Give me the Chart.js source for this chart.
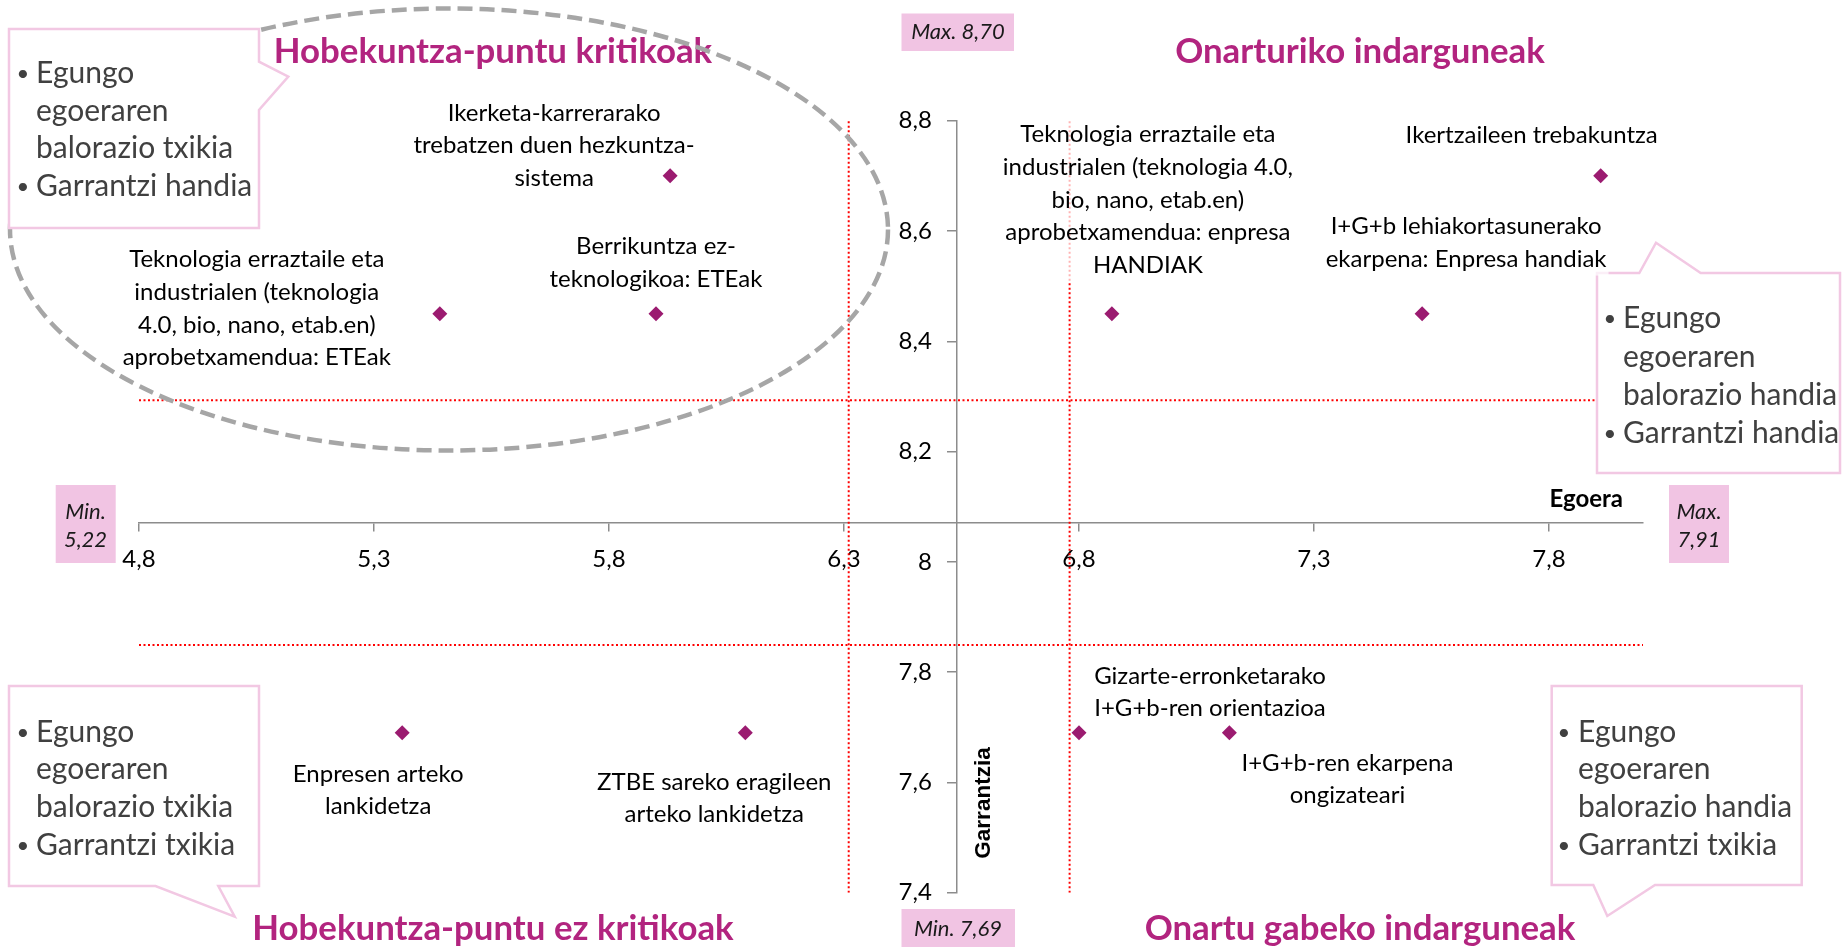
<!DOCTYPE html>
<html>
<head>
<meta charset="utf-8">
<script src="https://cdn.jsdelivr.net/npm/chart.js@4/dist/chart.umd.min.js"></script>
<style>
html,body{margin:0;padding:0;background:#ffffff;}
#wrap{width:1845px;height:947px;position:relative;}
canvas{display:block;}
</style>
</head>
<body>
<div id="wrap"><canvas id="c" width="1845" height="947"></canvas></div>
<script>
// ---------- DATA ----------
const names = [
  ["Ikerketa-karrerarako", "trebatzen duen hezkuntza-", "sistema"],
  ["Teknologia erraztaile eta", "industrialen (teknologia", "4.0, bio, nano, etab.en)", "aprobetxamendua: ETEak"],
  ["Berrikuntza ez-", "teknologikoa: ETEak"],
  ["Teknologia erraztaile eta", "industrialen (teknologia 4.0,", "bio, nano, etab.en)", "aprobetxamendua: enpresa", "HANDIAK"],
  ["Ikertzaileen trebakuntza"],
  ["I+G+b lehiakortasunerako", "ekarpena: Enpresa handiak"],
  ["Gizarte-erronketarako", "I+G+b-ren orientazioa"],
  ["I+G+b-ren ekarpena", "ongizateari"],
  ["Enpresen arteko", "lankidetza"],
  ["ZTBE sareko eragileen", "arteko lankidetza"]
];
const egoera     = [5.93, 5.44, 5.90, 6.87, 7.91, 7.53, 6.80, 7.12, 5.36, 6.09];
const garrantzia = [8.70, 8.45, 8.45, 8.45, 8.70, 8.45, 7.69, 7.69, 7.69, 7.69];

const xTicks = [4.8, 5.3, 5.8, 6.3, 6.8, 7.3, 7.8];
const yTicks = [7.4, 7.6, 7.8, 8.0, 8.2, 8.4, 8.6, 8.8];
const xRange = [4.8, 8.0];
const yRange = [7.4, 8.8];
const xAxisCross = 8.071;   // Garrantzia value where the Egoera axis sits
const yAxisCross = 6.54;    // Egoera value where the Garrantzia axis sits

const refVertical = [6.31, 6.78];     // dotted red separators (Egoera)
const refHorizontal = [8.293, 7.849]; // dotted red separators (Garrantzia)

const quadrantTitles = ["Hobekuntza-puntu kritikoak", "Onarturiko indarguneak",
                        "Hobekuntza-puntu ez kritikoak", "Onartu gabeko indarguneak"];
const calloutTexts = [
  ["• Egungo", "egoeraren", "balorazio txikia", "• Garrantzi handia"],
  ["• Egungo", "egoeraren", "balorazio handia", "• Garrantzi handia"],
  ["• Egungo", "egoeraren", "balorazio txikia", "• Garrantzi txikia"],
  ["• Egungo", "egoeraren", "balorazio handia", "• Garrantzi txikia"]
];
const minMaxTexts = [["Max. 8,70"], ["Min. 7,69"], ["Min.", "5,22"], ["Max.", "7,91"]];
const axisTitles = ["Egoera", "Garrantzia"];

// ---------- LAYOUT / STYLE ----------
const LABEL_FONT = '24px Lato, "Open Sans", sans-serif';
const LABEL_LH = 32.6;
// label offsets relative to the point pixel: [dx of line centre, dy of first line centre]
const labelOffsets = [
  [-116, -63], [-183, -54], [0, -67], [36, -179], [-69, -41],
  [44, -87], [131, -57], [118, 30], [-24, 41], [-31, 49]
];
const MAGENTA = '#B2247F';
const POINT_COLOR = '#9B1B70';
const PINK_FILL = '#F1C4E3';
const PINK_LINE = '#F2C8E3';
const AXIS_GRAY = '#8C8C8C';
const TICK_FONT = '24px Lato, "Open Sans", sans-serif';

function fmt(v) { return String(Math.round(v * 10) / 10).replace('.', ','); }

const points = egoera.map((x, i) => ({x: x, y: garrantzia[i]}));
const refSets = [];
refVertical.forEach(v => refSets.push({
  type: 'scatter', showLine: true, data: [{x: v, y: yRange[0]}, {x: v, y: yRange[1]}],
  borderColor: '#FF0000', borderWidth: 2, borderDash: [2, 2.5], pointRadius: 0, fill: false, order: 2
}));
refHorizontal.forEach(v => refSets.push({
  type: 'scatter', showLine: true, data: [{x: xRange[0], y: v}, {x: xRange[1], y: v}],
  borderColor: '#FF0000', borderWidth: 2, borderDash: [2, 2.5], pointRadius: 0, fill: false, order: 2
}));

function calloutPath(ctx, pts) {
  ctx.beginPath();
  ctx.moveTo(pts[0][0], pts[0][1]);
  for (let i = 1; i < pts.length; i++) ctx.lineTo(pts[i][0], pts[i][1]);
  ctx.closePath();
}

const callouts = [
  {path: [[9,29],[259,29],[259,61.7],[288.3,76.7],[259,110],[259,228],[9,228]], bx: 23, tx: 36, base: [83.3,120.5,158.3,196]},
  {path: [[1597,273],[1639.3,273],[1656,242.7],[1700.7,273],[1840,273],[1840,473],[1597,473]], bx: 1610, tx: 1623, base: [328.3,366.5,404.8,442.7]},
  {path: [[9,686],[259,686],[259,886],[218.3,886],[234.7,916.7],[155.5,886],[9,886]], bx: 23, tx: 36, base: [741.7,779.3,817.3,855]},
  {path: [[1551.7,686],[1801.7,686],[1801.7,885],[1655,885],[1607.3,916],[1593.3,885],[1551.7,885]], bx: 1564, tx: 1578, base: [741.7,779.3,817.3,855]}
];
const titlePos = [[493, 62.5], [1360, 62.5], [493, 940], [1360, 940]];
const minMaxBoxes = [
  {r: [901.5, 13.5, 112.5, 37.5], cx: 958, ys: [32]},
  {r: [901.5, 909, 113.5, 40], cx: 958, ys: [929]},
  {r: [55.7, 485, 60, 78], cx: 85.5, ys: [511.7, 540]},
  {r: [1669, 485, 60, 78], cx: 1699, ys: [511.7, 540]}
];

function drawDecor(chart) {
  const ctx = chart.ctx;
  const xs = chart.scales.x, ys = chart.scales.y;
  ctx.save();

  // y tick labels (right aligned, left of the tick marks)
  const yAxisPx = xs.getPixelForValue(yAxisCross);
  ctx.fillStyle = '#000000';
  ctx.font = TICK_FONT;
  ctx.textAlign = 'right';
  ctx.textBaseline = 'middle';
  yTicks.forEach(v => ctx.fillText(fmt(v), yAxisPx - 25, ys.getPixelForValue(v)));

  // quadrant titles
  ctx.fillStyle = MAGENTA;
  ctx.font = 'bold 34.8px Lato, "Open Sans", sans-serif';
  ctx.textAlign = 'center';
  ctx.textBaseline = 'alphabetic';
  quadrantTitles.forEach((t, i) => ctx.fillText(t, titlePos[i][0], titlePos[i][1]));

  // dashed ellipse
  ctx.strokeStyle = '#A6A6A6';
  ctx.lineWidth = 4.5;
  ctx.setLineDash([15, 7]);
  ctx.beginPath();
  ctx.ellipse(449, 229.5, 439, 221, 0, 0, Math.PI * 2);
  ctx.stroke();
  ctx.setLineDash([]);

  // callouts
  callouts.forEach((c, i) => {
    calloutPath(ctx, c.path);
    ctx.fillStyle = '#FFFFFF';
    ctx.fill();
    ctx.strokeStyle = PINK_LINE;
    ctx.lineWidth = 2.5;
    ctx.stroke();
    ctx.fillStyle = '#404040';
    ctx.textBaseline = 'alphabetic';
    calloutTexts[i].forEach((t, k) => {
      if (t.startsWith('• ')) {
        ctx.font = '22px Lato, sans-serif';
        ctx.textAlign = 'center';
        ctx.fillText('•', c.bx, c.base[k] - 2);
        ctx.font = '30px Lato, "Open Sans", sans-serif';
        ctx.textAlign = 'left';
        ctx.fillText(t.slice(2), c.tx, c.base[k]);
      } else {
        ctx.font = '30px Lato, "Open Sans", sans-serif';
        ctx.textAlign = 'left';
        ctx.fillText(t, c.tx, c.base[k]);
      }
    });
  });

  // min / max boxes
  minMaxBoxes.forEach((b, i) => {
    ctx.fillStyle = PINK_FILL;
    ctx.fillRect(b.r[0], b.r[1], b.r[2], b.r[3]);
    ctx.fillStyle = '#1A1A1A';
    ctx.font = 'italic 22px Lato, "Open Sans", sans-serif';
    ctx.textAlign = 'center';
    ctx.textBaseline = 'middle';
    minMaxTexts[i].forEach((t, k) => ctx.fillText(t, b.cx, b.ys[k]));
  });

  // axis titles
  ctx.fillStyle = '#000000';
  ctx.font = 'bold 24px Lato, "Open Sans", sans-serif';
  ctx.textAlign = 'right';
  ctx.textBaseline = 'alphabetic';
  ctx.fillText(axisTitles[0], 1623, 507);
  ctx.save();
  ctx.translate(983.5, 803);
  ctx.rotate(-Math.PI / 2);
  ctx.font = 'bold 22.5px "Liberation Sans", Arial, sans-serif';
  ctx.textAlign = 'center';
  ctx.textBaseline = 'middle';
  ctx.fillText(axisTitles[1], 0, 0);
  ctx.restore();

  // data labels
  ctx.font = LABEL_FONT;
  ctx.textAlign = 'center';
  ctx.textBaseline = 'middle';
  names.forEach((lines, i) => {
    const px = xs.getPixelForValue(egoera[i]);
    const py = ys.getPixelForValue(garrantzia[i]);
    const cx = px + labelOffsets[i][0];
    const y0 = py + labelOffsets[i][1];
    let w = 0;
    lines.forEach(l => { w = Math.max(w, ctx.measureText(l).width); });
    ctx.fillStyle = 'rgba(255,255,255,0.7)';
    ctx.fillRect(cx - w / 2 - 2, y0 - LABEL_LH / 2, w + 4, LABEL_LH * lines.length);
    ctx.fillStyle = '#000000';
    lines.forEach((l, k) => ctx.fillText(l, cx, y0 + k * LABEL_LH));
  });
  ctx.restore();
}

const decor = {
  id: 'decor',
  beforeDatasetDraw(chart, args) {
    if (args.index === 0) drawDecor(chart);
  }
};

new Chart(document.getElementById('c').getContext('2d'), {
  type: 'scatter',
  data: {
    datasets: [{
      label: 'Egoera / Garrantzia',
      data: points,
      pointStyle: 'rectRot',
      pointRadius: 7.5,
      pointHoverRadius: 7.5,
      backgroundColor: POINT_COLOR,
      borderColor: POINT_COLOR,
      borderWidth: 0,
      order: 1
    }].concat(refSets)
  },
  options: {
    responsive: false,
    animation: false,
    devicePixelRatio: 1,
    layout: {padding: {left: 139, right: 202, top: 120.7, bottom: 54.3}},
    plugins: {legend: {display: false}, tooltip: {enabled: false}},
    scales: {
      x: {
        type: 'linear', min: xRange[0], max: xRange[1],
        position: {y: xAxisCross},
        afterBuildTicks: s => { s.ticks = xTicks.map(v => ({value: v})); },
        ticks: {callback: v => fmt(v), font: {family: 'Lato', size: 24}, color: '#000000', padding: 14, maxRotation: 0, autoSkip: false},
        grid: {drawOnChartArea: false, drawTicks: true, tickLength: 8, color: AXIS_GRAY, lineWidth: 1.5},
        border: {display: true, color: AXIS_GRAY, width: 1.5}
      },
      y: {
        type: 'linear', min: yRange[0], max: yRange[1],
        position: {x: yAxisCross},
        afterBuildTicks: s => { s.ticks = yTicks.map(v => ({value: v})); },
        ticks: {display: false, autoSkip: false},
        grid: {drawOnChartArea: false, drawTicks: true, tickLength: 9, color: AXIS_GRAY, lineWidth: 1.5},
        border: {display: true, color: AXIS_GRAY, width: 1.5}
      }
    }
  },
  plugins: [decor]
});
</script>
</body>
</html>
